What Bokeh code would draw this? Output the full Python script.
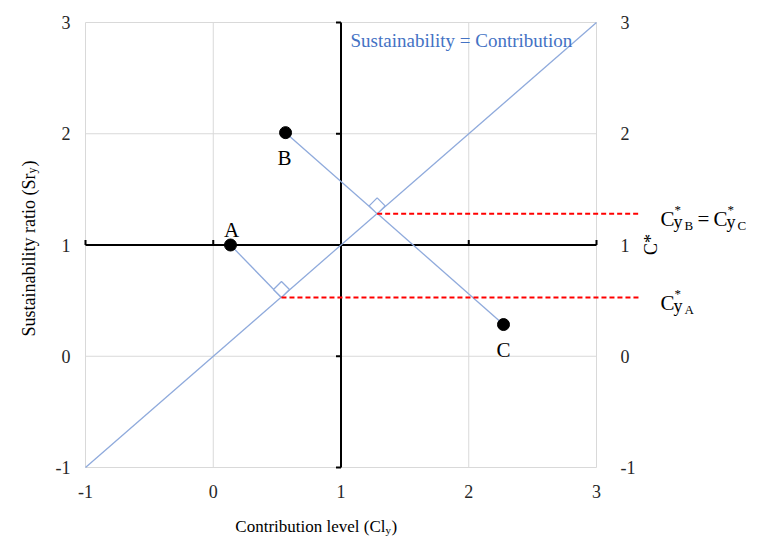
import math
from bokeh.plotting import figure
from bokeh.models import Range1d, Label
from bokeh.core.properties import value
from bokeh.embed import file_html
from bokeh.resources import INLINE

# ---------------- data ----------------
tick_values = [-1, 0, 1, 2, 3]
tick_labels = ["-1", "0", "1", "2", "3"]
point_names = ["A", "B", "C"]
point_x = [0.135, 0.566, 2.272]
point_y = [1.0, 2.01, 0.285]
foot_x = [0.534, 1.283]          # feet on the diagonal (A, and B/C)
foot_y = [0.528, 1.28]
diag_x = [-1, 3]
diag_y = [-1, 3]
cross_level = 1                   # black axes cross at (1, 1)
red_end_x = 3.345                 # red dashed guides run past the plot box

# ---------------- layout ----------------
W, H = 768, 536
BOX_L, BOX_R, BOX_T, BOX_B = 85, 596, 22, 467      # plot box in page pixels
XMIN, XMAX = tick_values[0], tick_values[-1]
YMIN, YMAX = tick_values[0], tick_values[-1]
PX = (XMAX - XMIN) / (BOX_R - BOX_L)               # data per pixel
PY = (YMAX - YMIN) / (BOX_B - BOX_T)

def dx(ix):   # page pixel -> data x
    return XMIN + (ix - BOX_L) * PX

def dy(iy):
    return YMAX - (iy - BOX_T) * PY

SERIF = "Liberation Serif"
BLUE_LINE = "#8FAADC"
GRID = "#D9D9D9"

p = figure(width=W, height=H,
           x_range=Range1d(dx(0), dx(W)), y_range=Range1d(dy(H), dy(0)),
           output_backend="svg", toolbar_location=None,
           x_axis_location=None, y_axis_location=None,
           min_border=0)
p.grid.visible = False
p.outline_line_color = None
p.background_fill_color = "white"
p.border_fill_color = "white"

# light grid incl. box
n = len(tick_values)
p.segment(x0=tick_values, y0=[YMIN] * n, x1=tick_values, y1=[YMAX] * n,
          line_color=GRID, line_width=1)
p.segment(x0=[XMIN] * n, y0=tick_values, x1=[XMAX] * n, y1=tick_values,
          line_color=GRID, line_width=1)

# tick labels
TL = dict(text_font=value(SERIF), text_font_size="18px", text_color="#262626",
          text_baseline="middle")
p.text(x=[dx(BOX_L - 15)] * n, y=tick_values, text=tick_labels, text_align="right", **TL)
p.text(x=[dx(BOX_R + 24)] * n, y=tick_values, text=tick_labels, text_align="left", **TL)
p.text(x=tick_values, y=[dy(BOX_B + 24)] * n, text=tick_labels, text_align="center", **TL)

# black crossing axes
p.segment(x0=[XMIN], y0=[cross_level], x1=[XMAX], y1=[cross_level],
          line_color="black", line_width=2)
p.segment(x0=[cross_level], y0=[YMIN], x1=[cross_level], y1=[YMAX],
          line_color="black", line_width=2)
tk = [t for t in tick_values if t != cross_level]
p.segment(x0=tk, y0=[cross_level] * len(tk), x1=tk,
          y1=[cross_level + 5 * PY] * len(tk), line_color="black", line_width=2)
p.segment(x0=[cross_level] * len(tk), y0=tk,
          x1=[cross_level - 5 * PX] * len(tk), y1=tk, line_color="black", line_width=2)

# diagonal and perpendiculars
p.line(diag_x, diag_y, line_color=BLUE_LINE, line_width=1.3)
p.line([point_x[0], foot_x[0]], [point_y[0], foot_y[0]], line_color=BLUE_LINE, line_width=1.3)
p.line([point_x[1], point_x[2]], [point_y[1], point_y[2]], line_color=BLUE_LINE, line_width=1.3)

# right-angle markers (square above each foot)
sq_x, sq_y = [], []
for fx, fy in zip(foot_x, foot_y):
    sq_x.append([fx, fx - 8 * PX, fx, fx + 8 * PX])
    sq_y.append([fy, fy + 8 * PY, fy + 16 * PY, fy + 8 * PY])
p.patches(sq_x, sq_y, fill_color="white", line_color=BLUE_LINE, line_width=1.3)

# points
p.scatter(point_x, point_y, size=12, color="black")

# red dashed guides
for fx, fy in zip(foot_x, foot_y):
    p.segment(x0=[fx], y0=[fy], x1=[red_end_x], y1=[fy],
              line_color="red", line_width=2, line_dash="5 3")

def lab(x, y, text, size, color="black", align="left", baseline="alphabetic",
        angle=0.0, font=SERIF):
    p.add_layout(Label(x=x, y=y, text=text, text_font=font, text_font_size=size,
                       text_color=color, text_align=align, text_baseline=baseline,
                       angle=angle))

# point names
offs = [(1, 15), (-1, -25), (0, -25)]
for nm, x, y, (ox, oy) in zip(point_names, point_x, point_y, offs):
    lab(x + ox * PX, y + oy * PY, nm, "21px", align="center", baseline="middle")

# line caption
lab(dx(350), dy(40), "Sustainability = Contribution", "19px", color="#4472C4",
    baseline="middle")

# axis titles
lab(dx(385), dy(526), "Contribution level (Cl", "17px", align="right")
lab(dx(385), dy(529), "y", "11px")
lab(dx(391), dy(526), ")", "17px")

lab(dx(28), dy(173), "Sustainability ratio (Sr", "18px", align="right", angle=math.pi / 2)
lab(dx(31), dy(173), "y", "12px", angle=math.pi / 2)
lab(dx(28), dy(166), ")", "18px", angle=math.pi / 2)

lab(dx(650), dy(244), "C*", "18px", align="center", baseline="middle", angle=math.pi / 2)

# right-side annotations C*_yB = C*_yC and C*_yA
def cstar(x0, base, sub):
    lab(dx(x0), dy(base), "C", "21px")
    lab(dx(x0 + 14), dy(base - 9), "*", "13px")
    lab(dx(x0 + 13), dy(base + 3), "y", "18px")
    lab(dx(x0 + 24), dy(base + 7), sub, "13px")

base_bc = 218
cstar(660, base_bc, "B")
lab(dx(697), dy(base_bc), "=", "21px")
cstar(713, base_bc, "C")
cstar(660, 302, "A")

open("out.html", "w").write(file_html(p, INLINE))
